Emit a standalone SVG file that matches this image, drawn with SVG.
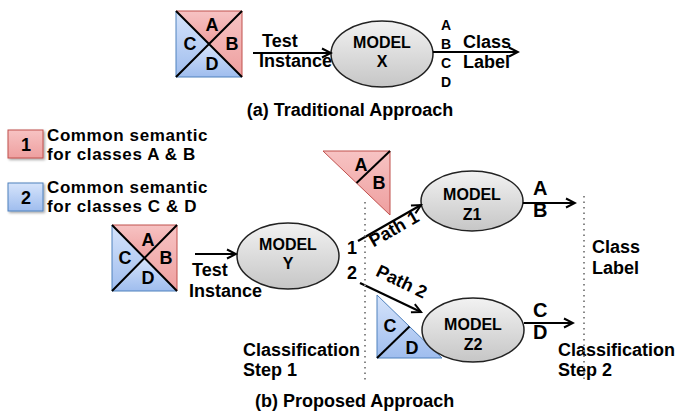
<svg xmlns="http://www.w3.org/2000/svg" width="676" height="416" viewBox="0 0 676 416">
  <defs>
    <linearGradient id="redFill" x1="0" y1="0" x2="0" y2="1">
      <stop offset="0" stop-color="#f7c3c3"/>
      <stop offset="1" stop-color="#ee9f9f"/>
    </linearGradient>
    <linearGradient id="blueFill" x1="0" y1="0" x2="0" y2="1">
      <stop offset="0" stop-color="#d6e4fb"/>
      <stop offset="1" stop-color="#9fbdee"/>
    </linearGradient>
    <linearGradient id="grayFill" x1="0" y1="0" x2="0" y2="1">
      <stop offset="0" stop-color="#f2f2f2"/>
      <stop offset="1" stop-color="#c6c6c6"/>
    </linearGradient>
    <marker id="arrow" markerWidth="12" markerHeight="12" refX="10" refY="6" orient="auto" markerUnits="userSpaceOnUse">
      <path d="M1,1.5 L10,6 L1,10.5" fill="none" stroke="#000" stroke-width="2"/>
    </marker>
    <filter id="shadow" x="-20%" y="-20%" width="150%" height="150%">
      <feDropShadow dx="1.5" dy="1.5" stdDeviation="1" flood-color="#000" flood-opacity="0.35"/>
    </filter>
  </defs>
  <style>
    text { font-family: "Liberation Sans", Arial, sans-serif; font-weight: bold; fill: #000; }
    .red { fill: url(#redFill); stroke: #c0504d; stroke-width: 1; }
    .blue { fill: url(#blueFill); stroke: #4f81bd; stroke-width: 1; }
    .div { stroke: #000; stroke-width: 2; fill: none; }
    .model { fill: url(#grayFill); stroke: #222; stroke-width: 1.5; }
    .conn { stroke: #000; stroke-width: 2.2; fill: none; marker-end: url(#arrow); }
    .dots { stroke: #888; stroke-width: 2; stroke-dasharray: 1.5 4; fill: none; }
    .q { font-size: 18px; text-anchor: middle; }
    .mt { font-size: 16px; text-anchor: middle; }
    .lab { font-size: 18px; }
    .leg { font-size: 17px; letter-spacing: 0.6px; }
    .big { font-size: 20px; }
    .cap { font-size: 18px; }
    .ltr { font-size: 14px; text-anchor: middle; }
  </style>

  <!-- (a) Traditional approach -->
  <g id="square-a">
    <polygon class="red" points="176,11 242,11 209,44"/>
    <polygon class="red" points="242,11 242,77 209,44"/>
    <polygon class="blue" points="176,77 242,77 209,44"/>
    <polygon class="blue" points="176,11 176,77 209,44"/>
    <path class="div" d="M176,11 L242,77 M242,11 L176,77"/>
    <text class="q" x="212" y="31">A</text>
    <text class="q" x="190" y="50">C</text>
    <text class="q" x="232" y="50">B</text>
    <text class="q" x="212" y="70">D</text>
  </g>

  <g id="model-x">
    <ellipse class="model" cx="382" cy="54" rx="51" ry="33"/>
    <text class="mt" x="382" y="48">MODEL</text>
    <text class="mt" x="382" y="67">X</text>
  </g>

  <g id="outputs-x">
    <text class="ltr" x="446" y="30">A</text>
    <text class="ltr" x="446" y="49">B</text>
    <text class="ltr" x="446" y="68">C</text>
    <text class="ltr" x="446" y="87">D</text>
  </g>

  <g id="labels-a">
    <text class="lab" x="262" y="47">Test</text>
    <text class="lab" x="259" y="67">Instance</text>
    <text class="lab" x="463" y="48">Class</text>
    <text class="lab" x="463" y="68">Label</text>
    <text class="cap" x="350" y="116" text-anchor="middle">(a) Traditional Approach</text>
  </g>

  <!-- legend -->
  <g id="legend-1">
    <rect x="8" y="130" width="35" height="28" fill="url(#redFill)" stroke="#c0504d" stroke-width="1" filter="url(#shadow)"/>
    <text class="q" x="26" y="151">1</text>
    <text class="leg" x="47" y="141">Common semantic</text>
    <text class="leg" x="47" y="160">for classes A &amp; B</text>
  </g>
  <g id="legend-2">
    <rect x="8" y="183" width="35" height="28" fill="url(#blueFill)" stroke="#4f81bd" stroke-width="1" filter="url(#shadow)"/>
    <text class="q" x="26" y="204">2</text>
    <text class="leg" x="47" y="193">Common semantic</text>
    <text class="leg" x="47" y="212">for classes C &amp; D</text>
  </g>

  <!-- (b) Proposed approach -->
  <g id="square-b">
    <polygon class="red" points="112,225 177,225 144.5,258"/>
    <polygon class="red" points="177,225 177,291 144.5,258"/>
    <polygon class="blue" points="112,291 177,291 144.5,258"/>
    <polygon class="blue" points="112,225 112,291 144.5,258"/>
    <path class="div" d="M112,225 L177,291 M177,225 L112,291"/>
    <text class="q" x="148" y="246">A</text>
    <text class="q" x="125" y="264">C</text>
    <text class="q" x="166" y="264">B</text>
    <text class="q" x="148" y="284">D</text>
  </g>

  <g id="model-y">
    <ellipse class="model" cx="288" cy="256" rx="51" ry="33"/>
    <text class="mt" x="288" y="250">MODEL</text>
    <text class="mt" x="288" y="269">Y</text>
  </g>

  <g id="triangle-ab">
    <polygon class="red" points="323,151 390,151 390,215"/>
    <path class="div" d="M356.5,183 L390,151"/>
    <text class="q" x="361" y="171">A</text>
    <text class="q" x="379" y="189">B</text>
  </g>

  <g id="triangle-cd">
    <polygon class="blue" points="377,295 377,358 442,358"/>
    <path class="div" d="M409.5,326.5 L377,358"/>
    <text class="q" x="390" y="332">C</text>
    <text class="q" x="412" y="354">D</text>
  </g>

  <g id="model-z1">
    <ellipse class="model" cx="472" cy="201" rx="51" ry="30"/>
    <text class="mt" x="472" y="200">MODEL</text>
    <text class="mt" x="472" y="220">Z1</text>
  </g>

  <g id="model-z2">
    <ellipse class="model" cx="473" cy="330" rx="51" ry="32"/>
    <text class="mt" x="473" y="330">MODEL</text>
    <text class="mt" x="473" y="350">Z2</text>
  </g>

  <g id="labels-b">
    <text class="lab" x="192" y="276">Test</text>
    <text class="lab" x="189" y="297">Instance</text>
    <text class="lab" x="347" y="254">1</text>
    <text class="lab" x="347" y="279">2</text>
    <text class="big" x="533" y="195">A</text>
    <text class="big" x="533" y="217">B</text>
    <text class="big" x="533" y="317">C</text>
    <text class="big" x="533" y="339">D</text>
    <text class="lab" x="592" y="253">Class</text>
    <text class="lab" x="592" y="274">Label</text>
    <text class="lab" x="243" y="356">Classification</text>
    <text class="lab" x="243" y="376">Step 1</text>
    <text class="lab" x="558" y="356">Classification</text>
    <text class="lab" x="558" y="376">Step 2</text>
    <text class="cap" x="255" y="407">(b) Proposed Approach</text>
    <text class="lab" transform="translate(397,234) rotate(-30)" text-anchor="middle">Path 1</text>
    <text class="lab" transform="translate(399,287) rotate(26)" text-anchor="middle">Path 2</text>
  </g>

  <!-- connectors -->
  <g id="connectors">
    <path class="conn" d="M253,53 L331,53"/>
    <path class="conn" d="M433,52 L518,52"/>
    <path class="conn" d="M195,254 L236,254"/>
    <path class="conn" d="M358,241 L421,205"/>
    <path class="conn" d="M360,283 L421,312"/>
    <path class="conn" d="M523,203 L575,203"/>
    <path class="conn" d="M524,323 L573,323"/>
    <path class="dots" d="M365,202 L365,380"/>
    <path class="dots" d="M584,196 L584,380"/>
  </g>
</svg>
